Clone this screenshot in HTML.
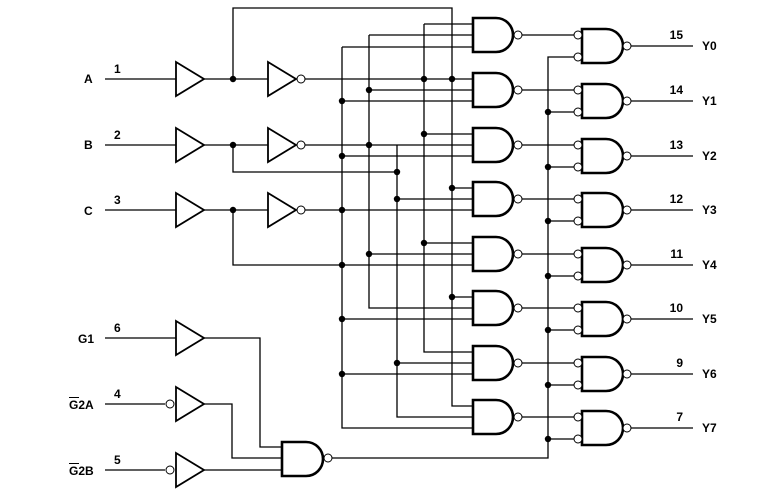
<!DOCTYPE html>
<html><head><meta charset="utf-8"><style>
html,body{margin:0;padding:0;background:#fff;}
svg{display:block;}
text{font-family:"Liberation Sans",Arial,sans-serif;font-weight:bold;font-size:12px;fill:#000;}
</style></head><body>
<svg width="777" height="494" viewBox="0 0 777 494" xmlns="http://www.w3.org/2000/svg">
<g fill="none" stroke="#000" stroke-width="1.3">
<!-- input lines -->
<path d="M105,79H176 M204,79H268 M305,79H473"/>
<path d="M105,145H176 M204,145H268 M305,145H473"/>
<path d="M105,210H176 M204,210H268 M305,210H473"/>
<path d="M233,79V8H452V406H473"/>
<path d="M233,145V172H397"/>
<path d="M233,210V265H473"/>
<!-- buses -->
<path d="M424,24H473 M424,24V352H473"/>
<path d="M369,35H473 M369,35V308H473"/>
<path d="M342,47H473 M342,47V428H473"/>
<path d="M397,145V417H473"/>
<!-- taps -->
<path d="M369,90H473 M342,101H473"/>
<path d="M424,134H473 M342,156H473"/>
<path d="M452,188H473 M397,199H473"/>
<path d="M424,243H473 M369,254H473"/>
<path d="M452,297H473 M342,319H473"/>
<path d="M397,363H473 M342,374H473"/>
<!-- enable -->
<path d="M105,338H176 M204,338H260V447H282"/>
<path d="M105,404H165 M204,404H232V458H282"/>
<path d="M105,470H165 M204,470H282"/>
<path d="M332,458H548V57H574"/>
<!-- gate1 outputs, second inputs, outputs -->
<path d="M522,35H574 M631,46H693"/>
<path d="M522,90H574 M548,112H574 M631,101H693"/>
<path d="M522,145H574 M548,167H574 M631,156H693"/>
<path d="M522,199H574 M548,221H574 M631,210H693"/>
<path d="M522,254H574 M548,276H574 M631,265H693"/>
<path d="M522,308H574 M548,330H574 M631,319H693"/>
<path d="M522,363H574 M548,385H574 M631,374H693"/>
<path d="M522,417H574 M548,439H574 M631,428H693"/>
</g>
<!-- buffers -->
<g fill="#fff" stroke="#000" stroke-width="1.8">
<path d="M176,62L204,79L176,96Z"/><path d="M268,62L296,79L268,96Z"/>
<path d="M176,128L204,145L176,162Z"/><path d="M268,128L296,145L268,162Z"/>
<path d="M176,193L204,210L176,227Z"/><path d="M268,193L296,210L268,227Z"/>
<path d="M176,321L204,338L176,355Z"/>
<path d="M176,387L204,404L176,421Z"/>
<path d="M176,453L204,470L176,487Z"/>
</g>
<!-- gates -->
<g fill="#fff" stroke="#000" stroke-width="2.6">
<path d="M473,18H496A17,17 0 0 1 496,52H473Z"/>
<path d="M473,73H496A17,17 0 0 1 496,107H473Z"/>
<path d="M473,128H496A17,17 0 0 1 496,162H473Z"/>
<path d="M473,182H496A17,17 0 0 1 496,216H473Z"/>
<path d="M473,237H496A17,17 0 0 1 496,271H473Z"/>
<path d="M473,291H496A17,17 0 0 1 496,325H473Z"/>
<path d="M473,346H496A17,17 0 0 1 496,380H473Z"/>
<path d="M473,400H496A17,17 0 0 1 496,434H473Z"/>
<path d="M582,29H606A17,17 0 0 1 606,63H582Z"/>
<path d="M582,84H606A17,17 0 0 1 606,118H582Z"/>
<path d="M582,139H606A17,17 0 0 1 606,173H582Z"/>
<path d="M582,193H606A17,17 0 0 1 606,227H582Z"/>
<path d="M582,248H606A17,17 0 0 1 606,282H582Z"/>
<path d="M582,302H606A17,17 0 0 1 606,336H582Z"/>
<path d="M582,357H606A17,17 0 0 1 606,391H582Z"/>
<path d="M582,411H606A17,17 0 0 1 606,445H582Z"/>
<path d="M282,442H306A17,17 0 0 1 306,476H282Z"/>
</g>
<!-- bubbles -->
<g fill="#fff" stroke="#000" stroke-width="1">
<circle cx="301" cy="79" r="4"/><circle cx="301" cy="145" r="4"/><circle cx="301" cy="210" r="4"/>
<circle cx="170" cy="404" r="4"/><circle cx="170" cy="470" r="4"/>
<circle cx="328" cy="458" r="4"/>
<circle cx="518" cy="35" r="4"/><circle cx="518" cy="90" r="4"/><circle cx="518" cy="145" r="4"/><circle cx="518" cy="199" r="4"/>
<circle cx="518" cy="254" r="4"/><circle cx="518" cy="308" r="4"/><circle cx="518" cy="363" r="4"/><circle cx="518" cy="417" r="4"/>
<circle cx="578" cy="35" r="4"/><circle cx="578" cy="57" r="4"/><circle cx="627" cy="46" r="4"/>
<circle cx="578" cy="90" r="4"/><circle cx="578" cy="112" r="4"/><circle cx="627" cy="101" r="4"/>
<circle cx="578" cy="145" r="4"/><circle cx="578" cy="167" r="4"/><circle cx="627" cy="156" r="4"/>
<circle cx="578" cy="199" r="4"/><circle cx="578" cy="221" r="4"/><circle cx="627" cy="210" r="4"/>
<circle cx="578" cy="254" r="4"/><circle cx="578" cy="276" r="4"/><circle cx="627" cy="265" r="4"/>
<circle cx="578" cy="308" r="4"/><circle cx="578" cy="330" r="4"/><circle cx="627" cy="319" r="4"/>
<circle cx="578" cy="363" r="4"/><circle cx="578" cy="385" r="4"/><circle cx="627" cy="374" r="4"/>
<circle cx="578" cy="417" r="4"/><circle cx="578" cy="439" r="4"/><circle cx="627" cy="428" r="4"/>
</g>
<!-- dots -->
<g fill="#000">
<circle cx="233" cy="79" r="3.2"/><circle cx="233" cy="145" r="3.2"/><circle cx="233" cy="210" r="3.2"/>
<circle cx="452" cy="79" r="3.2"/><circle cx="452" cy="188" r="3.2"/><circle cx="452" cy="297" r="3.2"/>
<circle cx="424" cy="79" r="3.2"/><circle cx="424" cy="134" r="3.2"/><circle cx="424" cy="243" r="3.2"/>
<circle cx="397" cy="172" r="3.2"/><circle cx="397" cy="199" r="3.2"/><circle cx="397" cy="363" r="3.2"/>
<circle cx="369" cy="90" r="3.2"/><circle cx="369" cy="145" r="3.2"/><circle cx="369" cy="254" r="3.2"/>
<circle cx="342" cy="101" r="3.2"/><circle cx="342" cy="156" r="3.2"/><circle cx="342" cy="210" r="3.2"/>
<circle cx="342" cy="265" r="3.2"/><circle cx="342" cy="319" r="3.2"/><circle cx="342" cy="374" r="3.2"/>
<circle cx="548" cy="112" r="3.2"/><circle cx="548" cy="167" r="3.2"/><circle cx="548" cy="221" r="3.2"/>
<circle cx="548" cy="276" r="3.2"/><circle cx="548" cy="330" r="3.2"/><circle cx="548" cy="385" r="3.2"/>
<circle cx="548" cy="439" r="3.2"/>
</g>
<!-- labels -->
<text x="84" y="83">A</text><text x="114" y="73">1</text>
<text x="84" y="149">B</text><text x="114" y="139">2</text>
<text x="84" y="215">C</text><text x="114" y="204">3</text>
<text x="78" y="343">G1</text><text x="114" y="332">6</text>
<text x="69" y="409">G2A</text><text x="114" y="398">4</text>
<text x="69" y="475">G2B</text><text x="114" y="464">5</text>
<path d="M69,397.5H79 M69,463.5H79" stroke="#000" stroke-width="1"/>
<g text-anchor="end">
<text x="683" y="39">15</text><text x="683" y="94">14</text><text x="683" y="149">13</text><text x="683" y="203">12</text>
<text x="683" y="258">11</text><text x="683" y="312">10</text><text x="683" y="367">9</text><text x="683" y="421">7</text>
</g>
<text x="702" y="50">Y0</text><text x="702" y="105">Y1</text><text x="702" y="160">Y2</text><text x="702" y="214">Y3</text>
<text x="702" y="269">Y4</text><text x="702" y="323">Y5</text><text x="702" y="378">Y6</text><text x="702" y="432">Y7</text>
</svg>
</body></html>
